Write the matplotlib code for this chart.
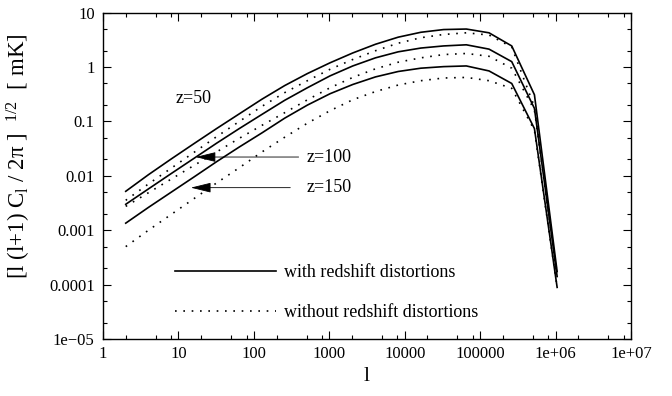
import numpy as np
import matplotlib
matplotlib.use('Agg')
import matplotlib.pyplot as plt
from matplotlib.ticker import FixedLocator, FixedFormatter, LogLocator, NullFormatter

# multipoles l = 2^1 ... 2^20
ell = [2, 4, 8, 16, 32, 64, 128, 256, 512, 1024, 2048, 4096, 8192, 16384,
       32768, 65536, 131072, 262144, 524288, 1048576]

# z=50
z50_with = [0.0052, 0.0105, 0.0204, 0.039, 0.074, 0.138, 0.257, 0.457, 0.76,
            1.20, 1.82, 2.63, 3.55, 4.37, 4.90, 5.01, 4.27, 2.45, 0.31,
            1.74e-4]
z50_without = [0.00355, 0.0071, 0.0138, 0.0269, 0.0525, 0.100, 0.19, 0.339,
               0.562, 0.912, 1.38, 2.0, 2.75, 3.47, 3.98, 4.27, 3.89, 2.34,
               0.186, 1.58e-4]
# z=100
z100_with = [0.0030, 0.00575, 0.011, 0.0209, 0.0398, 0.074, 0.135, 0.245,
             0.417, 0.69, 1.05, 1.48, 1.91, 2.24, 2.45, 2.57, 2.14, 1.26,
             0.174, 1.41e-4]
z100_without = [0.00275, 0.0049, 0.0087, 0.0155, 0.0275, 0.049, 0.085, 0.145,
                0.25, 0.417, 0.646, 0.93, 1.23, 1.48, 1.70, 1.78, 1.58, 0.955,
                0.162, 1.41e-4]
# z=150
z150_with = [0.00135, 0.00263, 0.0050, 0.0095, 0.0182, 0.0339, 0.0617, 0.115,
             0.20, 0.324, 0.479, 0.66, 0.83, 0.955, 1.02, 1.05, 0.85, 0.50,
             0.074, 8.9e-5]
z150_without = [0.0005, 0.0010, 0.00195, 0.0038, 0.0074, 0.0141, 0.0275,
                0.0513, 0.093, 0.158, 0.251, 0.355, 0.468, 0.562, 0.63, 0.646,
                0.562, 0.407, 0.069, 8.9e-5]

xtick_vals = [1, 10, 100, 1000, 10000, 100000, 1e6, 1e7]
xtick_labels = ['1', '10', '100', '1000', '10000', '100000', '1e+06', '1e+07']
ytick_vals = [1e-5, 1e-4, 1e-3, 1e-2, 0.1, 1, 10]
ytick_labels = ['1e\u221205', '0.0001', '0.001', '0.01', '0.1', '1', '10']

plt.rcParams['font.family'] = ['Liberation Serif', 'DejaVu Serif']
plt.rcParams['mathtext.fontset'] = 'custom'
plt.rcParams['mathtext.rm'] = 'Liberation Serif'
plt.rcParams['mathtext.it'] = 'Liberation Serif:italic'

fig = plt.figure(figsize=(6.72, 3.96), dpi=100)
ax = fig.add_axes([0.1533, 0.1439, 0.7857, 0.8240])

dots = (0, (1, 4))
lw = 1.2
ax.plot(ell, z50_with, color='black', lw=lw, label='with redshift distortions')
ax.plot(ell, z50_without, color='black', lw=lw, ls=dots,
        label='without redshift distortions')
ax.plot(ell, z100_with, color='black', lw=lw)
ax.plot(ell, z100_without, color='black', lw=lw, ls=dots)
ax.plot(ell, z150_with, color='black', lw=lw)
ax.plot(ell, z150_without, color='black', lw=lw, ls=dots)

ax.set_xscale('log')
ax.set_yscale('log')
ax.set_xlim(1, 1e7)
ax.set_ylim(1e-5, 10)

ax.xaxis.set_major_locator(FixedLocator(xtick_vals))
ax.xaxis.set_major_formatter(FixedFormatter(xtick_labels))
ax.yaxis.set_major_locator(FixedLocator(ytick_vals))
ax.yaxis.set_major_formatter(FixedFormatter(ytick_labels))
ax.xaxis.set_minor_locator(LogLocator(base=10, subs=(2, 5, 8), numticks=20))
ax.yaxis.set_minor_locator(LogLocator(base=10, subs=(2, 5), numticks=20))
ax.xaxis.set_minor_formatter(NullFormatter())
ax.yaxis.set_minor_formatter(NullFormatter())
ax.tick_params(which='both', direction='in', top=True, right=True,
               labelsize=12, width=0.8)
ax.tick_params(which='major', length=6, pad=5)
ax.tick_params(which='minor', length=3)
ax.tick_params(axis='y', which='major', pad=6)
for sp in ax.spines.values():
    sp.set_linewidth(1.0)

ax.set_ylabel('[l (l+1) C$_\\mathrm{l}$ / 2\u03c0 ]  $^\\mathrm{1/2}$  [ mK]',
              fontsize=16.5)
ax.yaxis.set_label_coords(-0.133, 0.561)
ax.set_xlabel('l', fontsize=16)
ax.xaxis.set_label_coords(0.5, -0.085)

ax.text(9.2, 0.27, 'z=50', fontsize=13, va='center', ha='left')
ax.text(497, 0.0222, 'z=100', fontsize=13, va='center', ha='left')
ax.text(497, 0.0061, 'z=150', fontsize=13, va='center', ha='left')
arrow_style = dict(arrowstyle='-|>,head_length=0.9,head_width=0.22',
                   color='black', lw=0.6, mutation_scale=14,
                   shrinkA=0, shrinkB=0)
ax.annotate('', xy=(16.9, 0.0222), xytext=(392, 0.0222),
            arrowprops=arrow_style)
ax.annotate('', xy=(14.6, 0.00607), xytext=(304, 0.00607),
            arrowprops=arrow_style)

ax.legend(loc='lower left', bbox_to_anchor=(0.136, 0.055), frameon=False,
          fontsize=13, handlelength=5.6, handletextpad=0.45,
          labelspacing=1.25, borderpad=0, borderaxespad=0)

plt.savefig('out.png', dpi=100)
